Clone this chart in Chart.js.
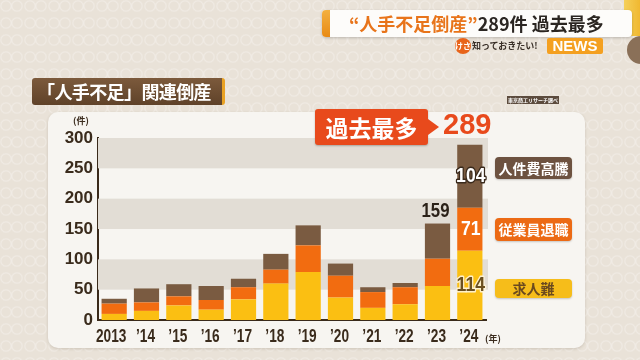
<!DOCTYPE html>
<html><head><meta charset="utf-8">
<script src="https://cdn.jsdelivr.net/npm/chart.js@4/dist/chart.umd.min.js"></script>
<style>
html,body{margin:0;padding:0;}
body{width:640px;height:360px;overflow:hidden;position:relative;background-color:#e9e2d8;
  background-image:radial-gradient(circle at 6px 6px, transparent 4px, rgba(255,255,255,0.28) 5px, transparent 6.5px),
                   radial-gradient(circle at 17px 6px, transparent 4px, rgba(255,255,255,0.28) 5px, transparent 6.5px);
  background-size:24px 17px;
  font-family:'Noto Sans CJK JP','Noto Sans',sans-serif;}
#panel{position:absolute;left:48px;top:112px;width:537px;height:236px;background:#f7f5f1;border-radius:10px;box-shadow:0 1px 3px rgba(80,60,40,0.18);z-index:0;}
#c{position:absolute;left:0;top:0;z-index:1;}
.ov{position:absolute;z-index:2;white-space:nowrap;font-weight:700;}
#title{left:32px;top:78px;height:27px;background:linear-gradient(#7c5a3c,#5f4229);border-radius:3px;border-right:3px solid #e9a224;color:#fff;font-size:18px;line-height:27px;padding-left:5px;box-sizing:border-box;width:193px;letter-spacing:-0.6px;}
#banner{left:322px;top:10px;width:310px;height:27px;background:#fdfcfa;border-radius:4px;box-shadow:0 1px 3px rgba(0,0,0,0.2);}
#bannerAcc{left:322px;top:10px;width:8px;height:27px;background:linear-gradient(#f3b040,#e88a14);border-radius:4px 0 0 4px;}
#bannerTxt{left:349px;top:10px;height:27px;line-height:27px;font-size:18px;color:#2b2622;}
#bannerTxt .o{color:#e8741a;}
#kesa{left:455px;top:38px;width:16px;height:16px;border-radius:50%;background:#e8641a;color:#fff;font-size:8px;line-height:16px;text-align:center;}
#shitte{left:472px;top:39px;font-size:9px;line-height:14px;color:#3a3028;}
#news{left:547px;top:38px;width:56px;height:16px;background:#f4a020;color:#fff;font-family:'Liberation Sans','Roboto',sans-serif;font-size:15px;line-height:16px;text-align:center;border-radius:2px;}
#ystrip{left:624px;top:0;width:16px;height:36px;background:linear-gradient(90deg,#f5d05a,#f0b830);z-index:1;}
#bcirc{left:627px;top:36px;width:28px;height:28px;border-radius:50%;background:#8a7058;z-index:1;}
#callout{left:315px;top:109px;width:113px;height:36px;background:#e84a1c;border-radius:3px;color:#fff;font-size:23px;line-height:36px;text-align:center;box-shadow:0 1px 2px rgba(0,0,0,0.25);}
#arrow{left:428px;top:119px;width:0;height:0;border-top:8px solid transparent;border-bottom:8px solid transparent;border-left:11px solid #e84a1c;}
#big{left:443px;top:106px;font-family:'Liberation Sans','Roboto',sans-serif;font-size:29px;line-height:36px;color:#e84a1c;}
#src{left:507px;top:96px;height:8px;padding:0 1px;background:#5c4b3d;color:#fff;font-size:5px;line-height:8px;}
#unitY{left:73px;top:114px;font-size:9px;color:#3b2c1e;}
#unitX{left:485px;top:332px;font-size:9px;color:#3b2c1e;}
.leg{position:absolute;z-index:2;left:495px;width:77px;border-radius:4px;font-weight:700;font-size:14px;text-align:center;box-shadow:0 1px 2px rgba(0,0,0,0.2);}
</style></head>
<body>
<div id="panel"></div>
<canvas id="c" width="640" height="360"></canvas>
<div class="ov" id="ystrip"></div>
<div class="ov" id="bcirc"></div>
<div class="ov" id="banner"></div>
<div class="ov" id="bannerAcc"></div>
<div class="ov" id="bannerTxt"><span class="o">“人手不足倒産”</span><span id="bannerNum"></span>件 過去最多</div>
<div class="ov" id="kesa">けさ</div>
<div class="ov" id="shitte">知っておきたい!</div>
<div class="ov" id="news">NEWS</div>
<div class="ov" id="title">「人手不足」関連倒産</div>
<div class="ov" id="src">東京商工リサーチ調べ</div>
<div class="ov" id="callout">過去最多</div>
<div class="ov" id="arrow"></div>
<div class="ov" id="big"></div>
<div class="ov" id="unitY">(件)</div>
<div class="ov" id="unitX">(年)</div>
<script>
// ---- data ----
const years = ['2013','’14','’15','’16','’17','’18','’19','’20','’21','’22','’23','’24'];
const seriesNames = ['求人難','従業員退職','人件費高騰'];
const kyujinnan = [10,15,24,17,34,60,79,37,20,26,56,114];
const jugyoinTaishoku = [17,14,15,16,20,23,44,36,26,28,45,71];
const jinkenhiKoto = [8,23,20,23,14,26,33,20,8,7,58,104];
const yTicks = [0,50,100,150,200,250,300];

const colors = ['#fbbf12','#f26c10','#7a5b41'];
const legendStyle = [
  {top:279,h:19,bg:'#f6bd1a',fg:'#6b4a1f'},
  {top:218,h:23,bg:'#ec6a14',fg:'#fff'},
  {top:157,h:22,bg:'#6d5240',fg:'#fff'}
];
const totals = years.map((_,i)=>kyujinnan[i]+jugyoinTaishoku[i]+jinkenhiKoto[i]);
const last = years.length-1;
document.getElementById('big').textContent = totals[last];
document.getElementById('bannerNum').textContent = totals[last];
seriesNames.forEach((n,i)=>{
  const d=document.createElement('div');d.className='leg';
  const s=legendStyle[i];
  d.style.top=s.top+'px';d.style.height=s.h+'px';d.style.lineHeight=s.h+'px';
  d.style.background=s.bg;d.style.color=s.fg;d.textContent=n;
  document.body.appendChild(d);
});

function narrowText(ctx, txt, x, y, sx, stroke){
  ctx.save(); ctx.translate(x,y); ctx.scale(sx,1);
  if(stroke){ctx.lineWidth=3;ctx.lineJoin='round';ctx.strokeStyle=stroke;ctx.strokeText(txt,0,0);}
  ctx.fillText(txt,0,0); ctx.restore();
}

const bands = {
  id:'bands',
  beforeDatasetsDraw(chart){
    const {ctx, chartArea:a, scales:{y}} = chart;
    ctx.save(); ctx.fillStyle='#e2ddd5';
    for(let k=1;k<yTicks.length-1;k+=2){
      const t=y.getPixelForValue(yTicks[k+1]), b=y.getPixelForValue(yTicks[k]);
      ctx.fillRect(a.left, t, a.right+2-a.left, b-t);
    }
    ctx.restore();
  }
};
const xLabels = {
  id:'xLabels',
  afterDraw(chart){
    const {ctx, chartArea:a, scales:{x}} = chart;
    ctx.save(); ctx.fillStyle='#3a2b1c'; ctx.textAlign='center'; ctx.textBaseline='top';
    ctx.font="bold 18px 'Liberation Sans','Roboto',sans-serif";
    chart.data.labels.forEach((lab,i)=>{
      narrowText(ctx, lab, x.getPixelForTick(i)-(i===0?3:1), a.bottom+8, 0.76);
    });
    ctx.restore();
  }
};
const valueLabels = {
  id:'valueLabels',
  afterDatasetsDraw(chart){
    const ctx=chart.ctx; ctx.save();
    ctx.textAlign='center'; ctx.textBaseline='middle';
    ctx.font="bold 21px 'Liberation Sans','Roboto',sans-serif";
    const styles=[{fill:'#6b5020',stroke:'rgba(255,245,220,0.9)'},{fill:'#fff',stroke:null},{fill:'#fff',stroke:'#3a2a1c'}];
    chart.data.datasets.forEach((ds,di)=>{
      const el=chart.getDatasetMeta(di).data[last];
      const cy=(el.y+el.base)/2; const st=styles[di];
      ctx.fillStyle=st.fill;
      narrowText(ctx, String(ds.data[last]), el.x+1, cy, 0.84, st.stroke);
    });
    const idx=last-1;
    const top=chart.getDatasetMeta(2).data[idx];
    ctx.textBaseline='bottom'; ctx.fillStyle='#2b2118';
    ctx.font="bold 20px 'Liberation Sans','Roboto',sans-serif";
    narrowText(ctx, String(totals[idx]), top.x-2, top.y-2, 0.84);
    ctx.restore();
  }
};

new Chart(document.getElementById('c'), {
  type:'bar',
  data:{labels:years, datasets:[
    {label:seriesNames[0], data:kyujinnan, backgroundColor:colors[0]},
    {label:seriesNames[1], data:jugyoinTaishoku, backgroundColor:colors[1]},
    {label:seriesNames[2], data:jinkenhiKoto, backgroundColor:colors[2]}
  ]},
  options:{
    responsive:false, animation:false, devicePixelRatio:1,
    layout:{padding:{left:48,right:154,top:138,bottom:0}},
    plugins:{legend:{display:false},tooltip:{enabled:false}},
    datasets:{bar:{barPercentage:0.78,categoryPercentage:1,borderWidth:0}},
    scales:{
      x:{stacked:true, z:1,
        grid:{display:false, drawTicks:false},
        border:{display:true,color:'#3a2a1a',width:2},
        ticks:{display:false},
        afterFit(s){s.height=40;}
      },
      y:{stacked:true, z:1, min:0, max:300,
        grid:{display:false, drawTicks:false},
        border:{display:true,color:'#3a2a1a',width:2},
        ticks:{stepSize:50,color:'#3a2b1c',padding:5,
          font:{family:"'Liberation Sans','Roboto',sans-serif",size:17,weight:'bold'}},
        afterFit(s){s.width=50;}
      }
    }
  },
  plugins:[bands,xLabels,valueLabels]
});
</script>
</body></html>
